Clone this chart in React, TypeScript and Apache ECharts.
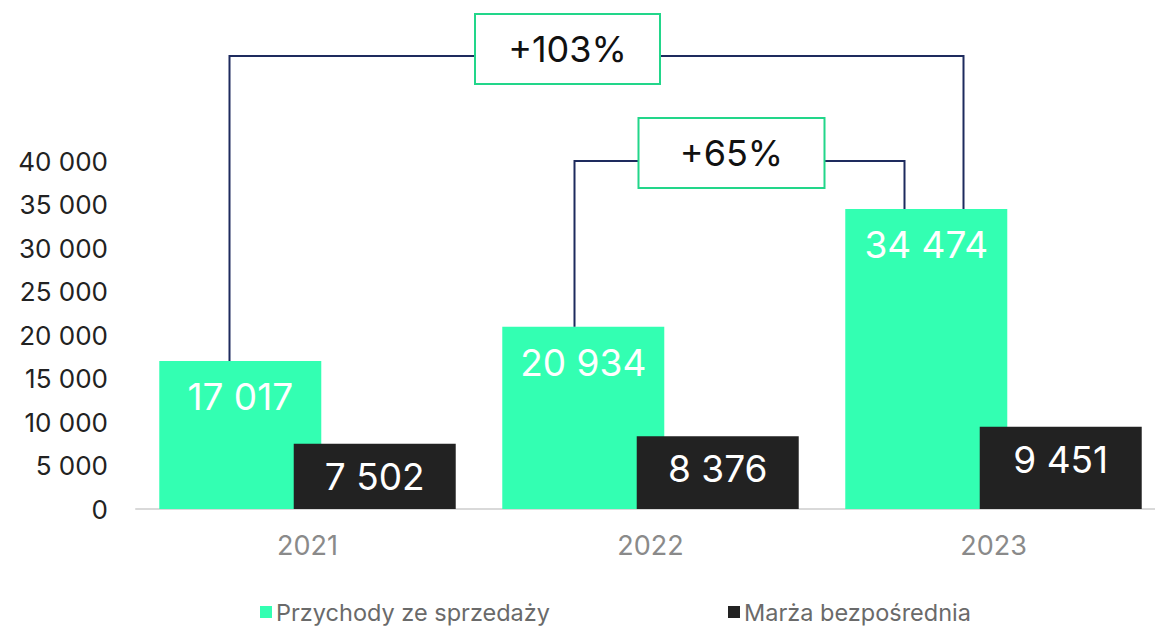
import React, { useEffect, useRef } from "react";
import * as echarts from "echarts";

const categories = ["2021", "2022", "2023"];
const seriesNames = ["Przychody ze sprzedaży", "Marża bezpośrednia"];
const revenue = [17017, 20934, 34474];
const directMargin = [7502, 8376, 9451];
const yMin = 0;
const yMax = 40000;
const yInterval = 5000;
// growth annotations: [from category index, to category index, label]
const growthFrom = [0, 1];
const growthTo = [2, 2];
const growthLabels = ["+103%", "+65%"];

const GREEN = "#33FFB2";
const DARK = "#222222";
const LINE = "#1E2B5E";
const BOX = "#22D68A";
const FONT = "Inter, 'Noto Sans', sans-serif";

const fmt = (v: number) => String(v).replace(/\B(?=(\d{3})+(?!\d))/g, " ");

export default function App() {
  const ref = useRef<HTMLDivElement>(null);
  useEffect(() => {
    if (!ref.current) return;
    const chart = echarts.init(ref.current, undefined, { renderer: "svg" });
    chart.setOption({
      animation: false,
      textStyle: { fontFamily: FONT },
      grid: { left: 136, right: 0, top: 161, bottom: 118, containLabel: false },
      legend: {
        data: seriesNames,
        left: 260,
        top: 600,
        padding: 0,
        itemWidth: 12,
        itemHeight: 12,
        itemGap: 178,
        icon: "rect",
        textStyle: { fontFamily: FONT, fontSize: 23.5, color: "#6a6a6a", padding: [0, 0, 0, -1] },
      },
      xAxis: {
        type: "category",
        data: categories,
        axisLine: { show: true, lineStyle: { color: "#d9d9d9", width: 2 } },
        axisTick: { show: false },
        axisLabel: { fontFamily: FONT, fontSize: 27, color: "#8a8a8a", margin: 23 },
      },
      yAxis: {
        type: "value",
        min: yMin,
        max: yMax,
        interval: yInterval,
        splitLine: { show: false },
        axisLine: { show: false },
        axisTick: { show: false },
        axisLabel: {
          fontFamily: FONT,
          fontSize: 26,
          color: "#222222",
          margin: 28,
          formatter: (v: number) => fmt(v),
        },
      },
      series: [
        {
          name: seriesNames[0],
          type: "bar",
          data: revenue,
          barWidth: 162,
          barGap: "-17%",
          itemStyle: { color: GREEN },
          label: {
            show: true,
            position: "insideTop",
            distance: 17,
            fontFamily: FONT,
            fontSize: 37,
            color: "#ffffff",
            formatter: (p: any) => fmt(p.value),
          },
        },
        {
          name: seriesNames[1],
          type: "bar",
          data: directMargin,
          barWidth: 162,
          itemStyle: { color: DARK },
          label: {
            show: true,
            position: "insideTop",
            distance: 14,
            fontFamily: FONT,
            fontSize: 37,
            color: "#ffffff",
            formatter: (p: any) => fmt(p.value),
          },
        },
      ],
    });

    const px = (i: number, v: number) =>
      chart.convertToPixel({ gridIndex: 0 }, [i, v]) as number[];

    // layout offsets (pixels) of the annotation brackets
    const brackets = [
      { x0: -78, x1: -30, level: 56, boxCx: -83, boxW: 185, boxTop: 14, boxH: 70 },
      { x0: -76, x1: -89, level: 161, boxCx: 81, boxW: 186, boxTop: 118, boxH: 70 },
    ];
    const graphic: any[] = [];
    growthLabels.forEach((label, k) => {
      const b = brackets[k];
      const a = px(growthFrom[k], revenue[growthFrom[k]]);
      const c = px(growthTo[k], revenue[growthTo[k]]);
      const mid = px(1, 0);
      const xa = a[0] + b.x0;
      const xc = c[0] + b.x1;
      graphic.push({
        type: "polyline",
        z: 10,
        shape: { points: [[xa, a[1]], [xa, b.level], [xc, b.level], [xc, c[1]]] },
        style: { stroke: LINE, lineWidth: 2, fill: "none" },
      });
      const cx = mid[0] + b.boxCx;
      graphic.push({
        type: "rect",
        z: 11,
        shape: { x: cx - b.boxW / 2, y: b.boxTop, width: b.boxW, height: b.boxH },
        style: { fill: "#ffffff", stroke: BOX, lineWidth: 2 },
      });
      graphic.push({
        type: "text",
        z: 12,
        x: cx,
        y: b.boxTop + b.boxH / 2,
        style: {
          text: label,
          fontFamily: FONT,
          fontSize: 36,
          fill: "#111111",
          align: "center",
          verticalAlign: "middle",
        },
      });
    });
    chart.setOption({ graphic });

    return () => chart.dispose();
  }, []);
  return (
    <div
      ref={ref}
      style={{ position: "fixed", left: 0, top: 0, width: 1165, height: 627, background: "#fff" }}
    />
  );
}
